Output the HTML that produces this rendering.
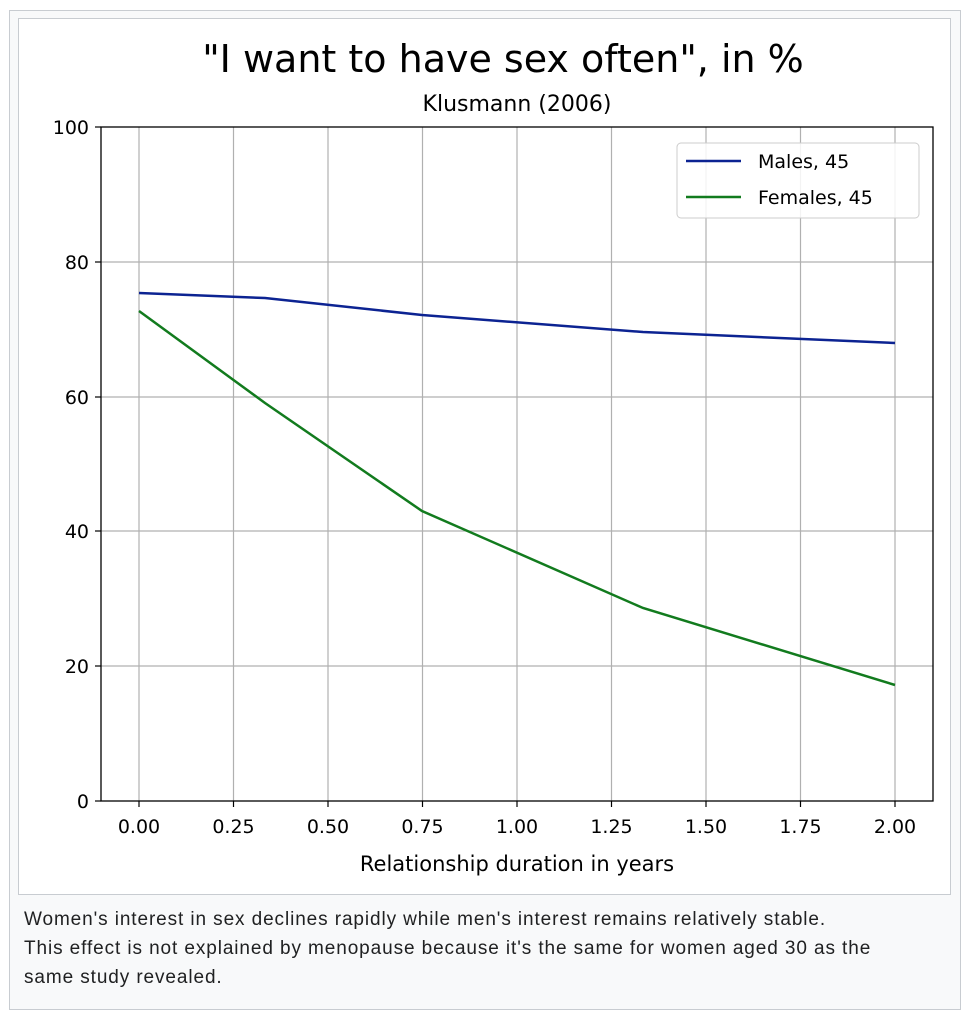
<!DOCTYPE html>
<html><head><meta charset="utf-8"><style>
html,body{margin:0;padding:0;background:#fff;width:976px;height:1023px;overflow:hidden}
.outer{position:absolute;left:9px;top:10px;width:952px;height:1000px;border:1px solid #c8ccd1;background:#f8f9fa;box-sizing:border-box}
.inner{position:absolute;left:18px;top:18px;width:933px;height:877px;border:1px solid #c8ccd1;background:#fff;box-sizing:border-box}
.cap{position:absolute;left:24px;top:905px;width:940px;font-family:"Liberation Sans",sans-serif;font-size:19px;letter-spacing:0.9px;line-height:29px;color:#202122;white-space:nowrap}
svg{position:absolute;left:0;top:0}
text{font-family:"DejaVu Sans","Liberation Sans",sans-serif;fill:#000}
</style></head><body>
<div class="outer"></div>
<div class="inner"></div>
<svg width="976" height="900">
<text x="503" y="72" font-size="38" text-anchor="middle">"I want to have sex often", in %</text>
<text x="517" y="111" font-size="22" text-anchor="middle">Klusmann (2006)</text>
<g stroke="#b0b0b0" stroke-width="1.2">
<line x1="139" y1="127" x2="139" y2="801"/><line x1="233.5" y1="127" x2="233.5" y2="801"/><line x1="328" y1="127" x2="328" y2="801"/><line x1="422.5" y1="127" x2="422.5" y2="801"/><line x1="517" y1="127" x2="517" y2="801"/><line x1="611.5" y1="127" x2="611.5" y2="801"/><line x1="706" y1="127" x2="706" y2="801"/><line x1="800.5" y1="127" x2="800.5" y2="801"/><line x1="895" y1="127" x2="895" y2="801"/>
<line x1="101" y1="262" x2="933" y2="262"/><line x1="101" y1="397" x2="933" y2="397"/><line x1="101" y1="531" x2="933" y2="531"/><line x1="101" y1="666" x2="933" y2="666"/>
</g>
<polyline fill="none" stroke="#0c2392" stroke-width="2.5" points="139,293 265,298 422,315 643,332 895,343"/>
<polyline fill="none" stroke="#127b1e" stroke-width="2.5" points="139,311 265,403 422,511 643,608 895,685"/>
<rect x="101" y="127" width="832" height="674" fill="none" stroke="#000" stroke-width="1.3"/>
<g stroke="#000" stroke-width="1.2">
<line x1="139" y1="801" x2="139" y2="807"/><line x1="233.5" y1="801" x2="233.5" y2="807"/><line x1="328" y1="801" x2="328" y2="807"/><line x1="422.5" y1="801" x2="422.5" y2="807"/><line x1="517" y1="801" x2="517" y2="807"/><line x1="611.5" y1="801" x2="611.5" y2="807"/><line x1="706" y1="801" x2="706" y2="807"/><line x1="800.5" y1="801" x2="800.5" y2="807"/><line x1="895" y1="801" x2="895" y2="807"/>
<line x1="95" y1="127" x2="101" y2="127"/><line x1="95" y1="262" x2="101" y2="262"/><line x1="95" y1="397" x2="101" y2="397"/><line x1="95" y1="531" x2="101" y2="531"/><line x1="95" y1="666" x2="101" y2="666"/><line x1="95" y1="801" x2="101" y2="801"/>
</g>
<g font-size="19" text-anchor="middle">
<text x="139" y="833">0.00</text><text x="233.5" y="833">0.25</text><text x="328" y="833">0.50</text><text x="422.5" y="833">0.75</text><text x="517" y="833">1.00</text><text x="611.5" y="833">1.25</text><text x="706" y="833">1.50</text><text x="800.5" y="833">1.75</text><text x="895" y="833">2.00</text>
</g>
<g font-size="19" text-anchor="end">
<text x="89" y="134">100</text><text x="89" y="269">80</text><text x="89" y="404">60</text><text x="89" y="538">40</text><text x="89" y="673">20</text><text x="89" y="808">0</text>
</g>
<text x="517" y="871" font-size="21" text-anchor="middle">Relationship duration in years</text>
<rect x="677" y="143" width="242" height="75" rx="4" fill="#fff" fill-opacity="0.85" stroke="#ccc"/>
<line x1="686" y1="161" x2="741" y2="161" stroke="#0c2392" stroke-width="2.5"/>
<line x1="686" y1="197" x2="741" y2="197" stroke="#127b1e" stroke-width="2.5"/>
<text x="758" y="168" font-size="19">Males, 45</text>
<text x="758" y="204" font-size="19">Females, 45</text>
</svg>
<div class="cap">Women's interest in sex declines rapidly while men's interest remains relatively stable.<br>This effect is not explained by menopause because it's the same for women aged 30 as the<br>same study revealed.</div>
</body></html>
